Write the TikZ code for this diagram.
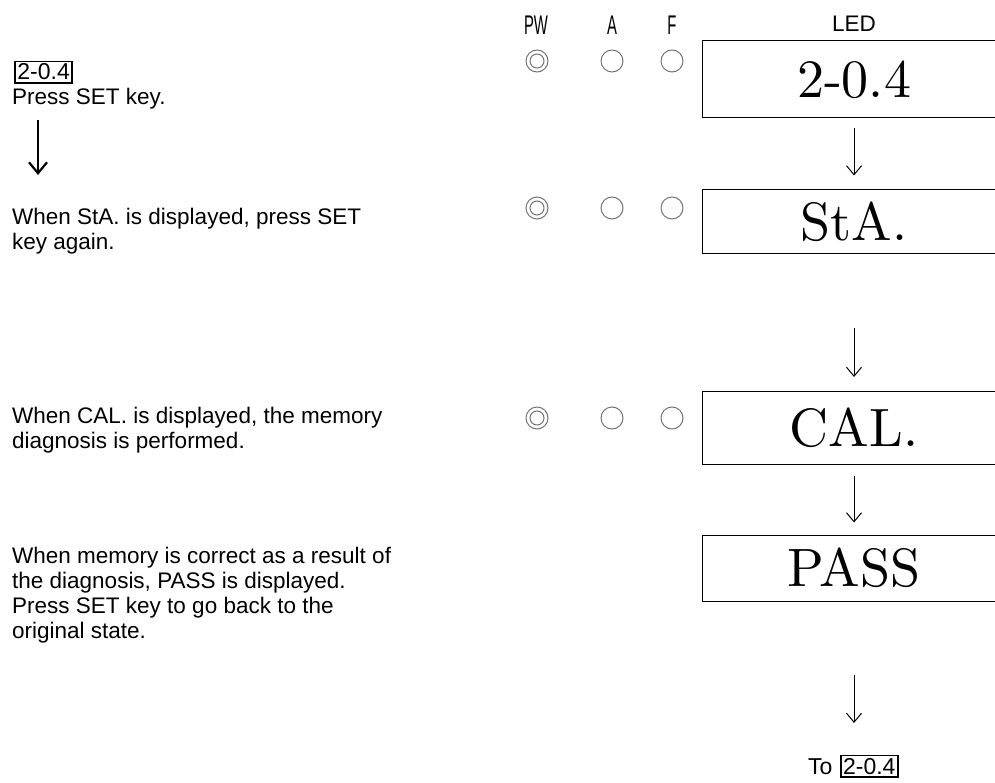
\documentclass[tikz,border=0pt]{standalone}
\usepackage{fontspec}
\usepackage{graphicx}
\newfontfamily\arial{Liberation Sans}
\newfontfamily\ledfont{lmroman10-regular.otf}
\usetikzlibrary{arrows.meta}
\begin{document}
\begin{tikzpicture}[x=1pt,y=-1pt,
  txt/.style={font=\arial\fontsize{22.5}{24.8}\selectfont, align=left, inner sep=0pt},
  keybox/.style={draw, line width=1.8pt, inner sep=2.5pt, font=\arial\fontsize{23}{25}\selectfont},
  ledbox/.style={draw, line width=1pt, minimum width=304pt, inner sep=0pt, font=\ledfont\fontsize{54}{60}\selectfont},
  lamp/.style={draw=black!55, line width=1pt, circle, minimum size=22pt, inner sep=0pt},
  hdr/.style={font=\arial\fontsize{27}{29}\selectfont, inner sep=0pt},
  flow/.style={-{Straight Barb[length=9pt,width=15pt]}, line width=1pt},
  bigflow/.style={-{Straight Barb[length=11pt,width=18pt]}, line width=2.2pt}]
\useasboundingbox (0,0) rectangle (995,783);
\clip (0,0) rectangle (995,783);
% headers
\node[hdr] (hpw) at (536,25) {\scalebox{0.55}[1]{PW}};
\node[hdr] (ha) at (612,25) {\scalebox{0.55}[1]{A}};
\node[hdr] (hf) at (672,25) {\scalebox{0.55}[1]{F}};
\node[txt] (hled) at (854,24) {LED};
% lamps
\foreach \r/\y in {1/61,2/208,3/418}{
  \node[lamp] (pw\r) at (537,\y) {};
  \node[lamp, minimum size=14pt] (pwi\r) at (537,\y) {};
  \node[lamp] (la\r) at (612,\y) {};
  \node[lamp] (lf\r) at (672,\y) {};
}
% LED boxes
\node[ledbox, minimum height=77pt] (led1) at (854,79.5) {2-0.4};
\node[ledbox, minimum height=64pt] (led2) at (854,222) {StA.};
\node[ledbox, minimum height=73pt] (led3) at (854,427.5) {CAL.};
\node[ledbox, minimum height=66pt] (led4) at (854,568) {PASS};
% arrows
\coordinate (a2s) at (854,328);
\coordinate (a2e) at (854,377);
\coordinate (a4s) at (854,675);
\coordinate (a4e) at (854,723);
\draw[flow] ([yshift=-10pt]led1.south) -- ([yshift=14pt]led2.north);
\draw[flow] (a2s) -- (a2e);
\draw[flow] ([yshift=-11pt]led3.south) -- ([yshift=12pt]led4.north);
\draw[flow] (a4s) -- (a4e);
% bottom reference
\node[txt, font=\arial\fontsize{23}{25}\selectfont, anchor=base west] (to) at (808,774) {To};
\node[keybox, anchor=base west] (tokey) at ([xshift=7pt]to.base east) {2-0.4};
% left texts
\node[keybox, anchor=base west] (k1) at (14,80) {2-0.4};
\node[txt, anchor=base west] (t1) at (12,105) {Press SET key.};
\coordinate (l1) at (38,120);
\coordinate (l2) at (38,175);
\draw[bigflow] (l1) -- (l2);
\node[txt, anchor=west] (t2) at (12,231) {When StA. is displayed, press SET\\key again.};
\node[txt, anchor=west] (t3) at (12,430) {When CAL. is displayed, the memory\\diagnosis is performed.};
\node[txt, anchor=west] (t4) at (12,595) {When memory is correct as a result of\\the diagnosis, PASS is displayed.\\Press SET key to go back to the\\original state.};
\end{tikzpicture}
\end{document}
